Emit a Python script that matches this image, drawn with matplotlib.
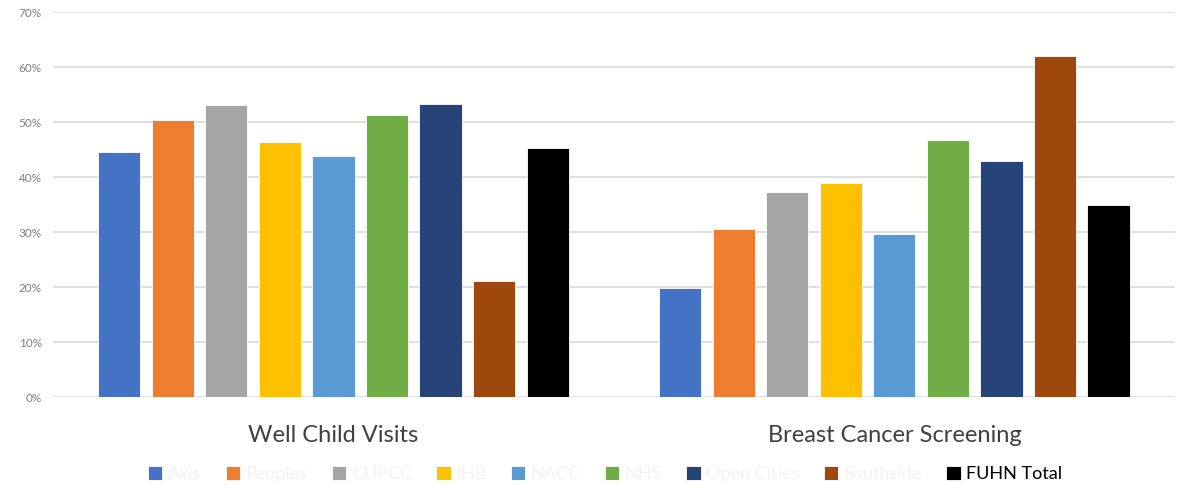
import numpy as np
from matplotlib import pyplot as plt
from matplotlib.ticker import PercentFormatter

plt.rcParams['font.family'] = ['Lato', 'DejaVu Sans']

categories = ['Well Child Visits', 'Breast Cancer Screening']
series = ['Axis', 'Peoples', 'CUPCC', 'IHB', 'NACC', 'NHS', 'Open Cities', 'Southside', 'FUHN Total']
values = {
    'Axis':        [44.5, 19.8],
    'Peoples':     [50.4, 30.5],
    'CUPCC':       [53.1, 37.3],
    'IHB':         [46.4, 38.9],
    'NACC':        [43.9, 29.7],
    'NHS':         [51.3, 46.7],
    'Open Cities': [53.3, 43.0],
    'Southside':   [21.1, 62.1],
    'FUHN Total':  [45.3, 35.0],
}
colors = ['#4472c4', '#ed7d31', '#a5a5a5', '#ffc000', '#5b9bd5', '#70ad47', '#264478', '#9e480e', '#000000']

fig = plt.figure(figsize=(11.91, 4.86), dpi=100)
ax = fig.add_axes([0.0445, 0.183, 0.942, 0.792])

x = np.arange(len(categories))
step = 0.0954
width = 0.075
for i, (s, c) in enumerate(zip(series, colors)):
    off = (i - (len(series) - 1) / 2) * step
    ax.bar(x + off, values[s], width, color=c, label=s, zorder=3,
           edgecolor='white', linewidth=0.6)

ax.set_xlim(-0.5, 1.5)
ax.set_ylim(0, 70)
ax.set_yticks(np.arange(0, 71, 10))
ax.yaxis.set_major_formatter(PercentFormatter(decimals=0))
ax.grid(axis='y', color='#d9d9d9', linewidth=1.2, zorder=0)
ax.tick_params(axis='y', length=0, labelsize=8.5, labelcolor='#7f7f7f', pad=8)
ax.set_xticks(x)
ax.set_xticklabels(categories, fontsize=17, color='#404040')
ax.tick_params(axis='x', length=0, pad=20)
for sp in ax.spines.values():
    sp.set_visible(False)

leg = fig.legend(loc='center', bbox_to_anchor=(0.508, 0.025), ncol=9, frameon=False,
                 fontsize=13, handlelength=0.8, handleheight=0.8, handletextpad=0.3,
                 columnspacing=1.35)
for t in leg.get_texts():
    t.set_color('#f2f2f2')
leg.get_texts()[-1].set_color('#000000')

plt.savefig('out.png', dpi=100)
